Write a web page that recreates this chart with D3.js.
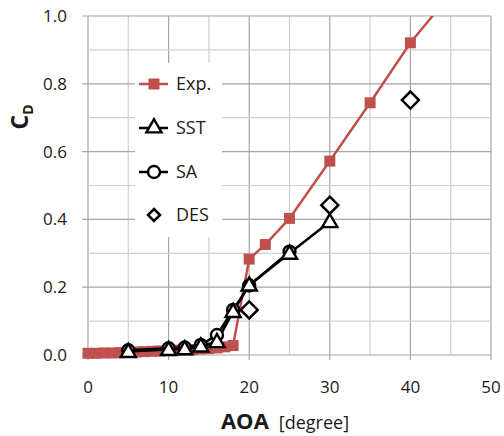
<!DOCTYPE html>
<html>
<head>
<meta charset="utf-8">
<script src="https://cdn.jsdelivr.net/npm/d3@7"></script>
<style>
  body { margin: 0; background: #fff; }
  svg text { font-family: "Open Sans", "Liberation Sans", sans-serif; fill: #1a1a1a; }
</style>
</head>
<body>
<svg id="chart" width="504" height="436"></svg>
<script>
const expAoa = [0, 1, 2, 3, 4, 5, 6, 7, 8, 9, 10, 11, 12, 13, 14, 15, 16, 17, 18, 20, 22, 25, 30, 35, 40, 45];
const expCd = [0.005, 0.005, 0.006, 0.006, 0.007, 0.008, 0.009, 0.010, 0.011, 0.012, 0.013, 0.014, 0.015, 0.016, 0.018, 0.019, 0.021, 0.024, 0.028,
    0.283, 0.326, 0.403, 0.572, 0.744, 0.921, 1.065];

const sstAoa = [5, 10, 12, 14, 16, 18, 20, 25, 30];
const sstCd = [0.01, 0.016, 0.018, 0.026, 0.039, 0.128, 0.206, 0.300, 0.393];

const saAoa = [5, 10, 12, 14, 16, 18, 20, 25];
const saCd = [0.014, 0.02, 0.022, 0.03, 0.059, 0.133, 0.205, 0.305];

const desAoa = [20, 30, 40];
const desCd = [0.133, 0.442, 0.752];

const xTicks = [0, 10, 20, 30, 40, 50];
const yTicks = [0, 0.2, 0.4, 0.6, 0.8, 1.0];

const svg = d3.select("#chart");
const plotL = 88, plotR = 491, plotT = 16, plotB = 355;

const x = d3.scaleLinear().domain([0, 50]).range([plotL, plotR]);
const y = d3.scaleLinear().domain([0, 1]).range([plotB, plotT]);

const red = "#c0504d";

// grid
const grid = svg.append("g");
d3.range(0, 51, 5).forEach(v => {
    grid.append("line")
        .attr("x1", x(v)).attr("x2", x(v))
        .attr("y1", plotT).attr("y2", v % 10 === 0 ? plotB + 5 : plotB)
        .attr("stroke", v % 10 === 0 ? "#a6a6a6" : "#d0d0d0")
        .attr("stroke-width", 1.2);
});
d3.range(0, 11, 1).forEach(i => {
    const v = i / 10;
    grid.append("line")
        .attr("x1", i % 2 === 0 ? plotL - 6 : plotL).attr("x2", plotR)
        .attr("y1", y(v)).attr("y2", y(v))
        .attr("stroke", i % 2 === 0 ? "#a6a6a6" : "#d0d0d0")
        .attr("stroke-width", 1.2);
});

// tick labels
svg.append("g").selectAll("text")
    .data(xTicks).enter().append("text")
    .attr("x", d => x(d)).attr("y", 393)
    .attr("text-anchor", "middle")
    .attr("font-size", 17)
    .text(d => d);

svg.append("g").selectAll("text")
    .data(yTicks).enter().append("text")
    .attr("x", 67).attr("y", d => y(d) + 6)
    .attr("text-anchor", "end")
    .attr("font-size", 17)
    .text(d => d3.format(".1f")(d));

// axis titles
const xt = svg.append("text")
    .attr("x", 285).attr("y", 429)
    .attr("text-anchor", "middle");
xt.append("tspan").attr("font-size", 22).attr("font-weight", "bold").text("AOA");
xt.append("tspan").attr("font-size", 18).attr("dx", 10).text("[degree]");

const yt = svg.append("text")
    .attr("transform", "translate(28,117) rotate(-90)")
    .attr("text-anchor", "middle")
    .attr("font-size", 23).attr("font-weight", "bold");
yt.append("tspan").text("C");
yt.append("tspan").attr("font-size", 14).attr("dy", 5).text("D");

// clip
svg.append("clipPath").attr("id", "plot")
    .append("rect").attr("x", plotL - 8).attr("y", plotT).attr("width", plotR - plotL + 16).attr("height", plotB - plotT + 12);

const plot = svg.append("g").attr("clip-path", "url(#plot)");
const line = d3.line().x(d => x(d[0])).y(d => y(d[1]));

const expPts = d3.zip(expAoa, expCd);
const sstPts = d3.zip(sstAoa, sstCd);
const saPts = d3.zip(saAoa, saCd);
const desPts = d3.zip(desAoa, desCd);

plot.append("path").datum(expPts).attr("d", line)
    .attr("fill", "none").attr("stroke", red).attr("stroke-width", 2.5);
plot.selectAll(".exp").data(expPts).enter().append("rect")
    .attr("x", d => x(d[0]) - 5.5).attr("y", d => y(d[1]) - 5.5)
    .attr("width", 11).attr("height", 11).attr("fill", red);

const tri = d3.symbol().type(d3.symbolTriangle).size(100);
const drawSst = (g, px, py) => g.append("path").attr("d", tri)
    .attr("transform", `translate(${px},${py + 1})`)
    .attr("fill", "#fff").attr("stroke", "#000").attr("stroke-width", 2.4);
const drawSa = (g, px, py) => g.append("circle").attr("cx", px).attr("cy", py).attr("r", 6)
    .attr("fill", "#fff").attr("stroke", "#000").attr("stroke-width", 2.4);
const drawDes = (g, px, py, s) => g.append("path")
    .attr("d", `M${px},${py - s}L${px + s},${py}L${px},${py + s}L${px - s},${py}Z`)
    .attr("fill", "#fff").attr("stroke", "#000").attr("stroke-width", 2.5);

plot.append("path").datum(saPts).attr("d", line)
    .attr("fill", "none").attr("stroke", "#000").attr("stroke-width", 2.5);
plot.append("path").datum(sstPts).attr("d", line)
    .attr("fill", "none").attr("stroke", "#000").attr("stroke-width", 2.5);
saPts.forEach(d => drawSa(plot, x(d[0]), y(d[1])));
sstPts.forEach(d => drawSst(plot, x(d[0]), y(d[1])));
desPts.forEach(d => drawDes(plot, x(d[0]), y(d[1]), 8.5));

// legend
const lg = svg.append("g");
lg.append("rect").attr("x", 135).attr("y", 63).attr("width", 87).attr("height", 174).attr("fill", "#fff");
const items = [
    { name: "Exp.", yy: 84 },
    { name: "SST", yy: 128 },
    { name: "SA", yy: 172 },
    { name: "DES", yy: 215 }
];
items.forEach((it, i) => {
    if (i < 3) {
        lg.append("line").attr("x1", 139).attr("x2", 168).attr("y1", it.yy).attr("y2", it.yy)
            .attr("stroke", i === 0 ? red : "#000").attr("stroke-width", 2.5);
    }
    if (i === 0) lg.append("rect").attr("x", 148.5).attr("y", it.yy - 5.5).attr("width", 11).attr("height", 11).attr("fill", red);
    if (i === 1) drawSst(lg, 154, it.yy - 1);
    if (i === 2) drawSa(lg, 154, it.yy);
    if (i === 3) drawDes(lg, 154, it.yy, 6);
    lg.append("text").attr("x", 176).attr("y", it.yy + 6).attr("font-size", 18).text(it.name);
});
</script>
</body>
</html>
